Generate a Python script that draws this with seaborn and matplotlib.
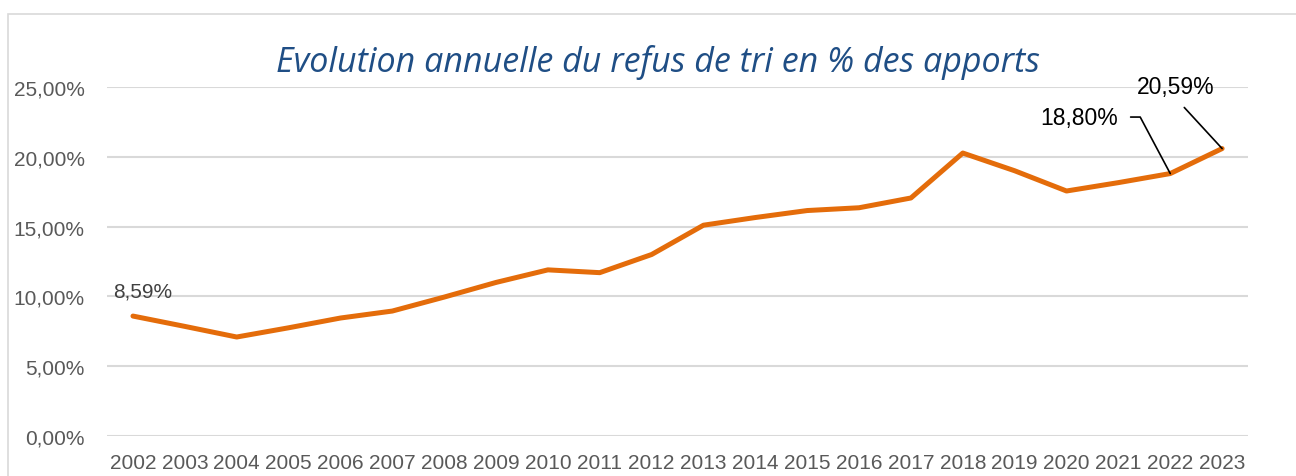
import numpy as np
import pandas as pd
import matplotlib
matplotlib.use("Agg")
import matplotlib.pyplot as plt
from matplotlib.ticker import FuncFormatter
from matplotlib.patches import Rectangle
import seaborn as sns

# Donnees
annees = list(range(2002, 2024))
refus = [8.59, 7.85, 7.09, 7.75, 8.45, 8.95, 9.95, 11.0, 11.9, 11.7, 13.0,
         15.1, 15.65, 16.15, 16.35, 17.05, 20.27, 19.0, 17.55, 18.15, 18.80, 20.59]
titre = "Evolution annuelle du refus de tri en % des apports"

df = pd.DataFrame({"annee": annees, "refus": refus})

sns.set_style("white")
plt.rcParams['font.family'] = ['Liberation Sans', 'DejaVu Sans']

fig = plt.figure(figsize=(12.96, 4.77), dpi=100)
ax = fig.add_axes([0.0826, 0.0839, 0.963 - 0.0826, 0.8155 - 0.0839])

sns.lineplot(data=df, x="annee", y="refus", ax=ax, color="#E46C0A", linewidth=3.6,
             solid_joinstyle="round", solid_capstyle="round", zorder=3)

ax.set_xlim(annees[0] - 0.5, annees[-1] + 0.5)
ax.set_ylim(0, 25)
ax.set_xticks(annees)
ax.set_yticks(np.arange(0, 26, 5))
ax.yaxis.set_major_formatter(FuncFormatter(lambda v, p: f"{v:.2f}%".replace(".", ",")))
ax.tick_params(axis="both", length=0, labelsize=15, colors="#595959")
ax.tick_params(axis="x", pad=12.5)
ax.tick_params(axis="y", pad=16)
ax.grid(axis="y", color="#D9D9D9", linewidth=1.5)
ax.set_axisbelow(True)
for s in ax.spines.values():
    s.set_visible(False)
ax.set_xlabel("")
ax.set_ylabel("")
ax.patch.set_alpha(0)

# cadre du graphique
fig.patches.append(Rectangle((8 / 1296, -0.1), 1.2, 1 - 15 / 477 + 0.1, transform=fig.transFigure,
                             fill=False, edgecolor="#D9D9D9", linewidth=1.2))

fig.text(0.508, 1 - 62 / 477, titre, ha="center", va="center", fontsize=24.5,
         style="italic", color="#1F4E85", family=["Open Sans", "DejaVu Sans"])

def fmt(v):
    return f"{v:.2f}%".replace(".", ",")

ax.annotate(fmt(refus[0]), (annees[0], refus[0]), xytext=(9.5, 25), textcoords="offset pixels",
            ha="center", va="center", fontsize=15, color="#404040")
ax.annotate(fmt(refus[-2]), (annees[-2], refus[-2]), xytext=(-91.5, 56.5), textcoords="offset pixels",
            ha="center", va="center", fontsize=16.5, color="black",
            arrowprops=dict(arrowstyle="-", color="black", lw=1.2, relpos=(1, 0.5),
                            shrinkA=7, shrinkB=0,
                            connectionstyle="angle,angleA=0,angleB=118,rad=0"))
ax.annotate(fmt(refus[-1]), (annees[-1], refus[-1]), xytext=(-46.5, 62), textcoords="offset pixels",
            ha="center", va="center", fontsize=16.5, color="black",
            arrowprops=dict(arrowstyle="-", color="black", lw=1.2, relpos=(0.5, 0),
                            shrinkA=6, shrinkB=0))

fig.savefig("out.png", dpi=100)
